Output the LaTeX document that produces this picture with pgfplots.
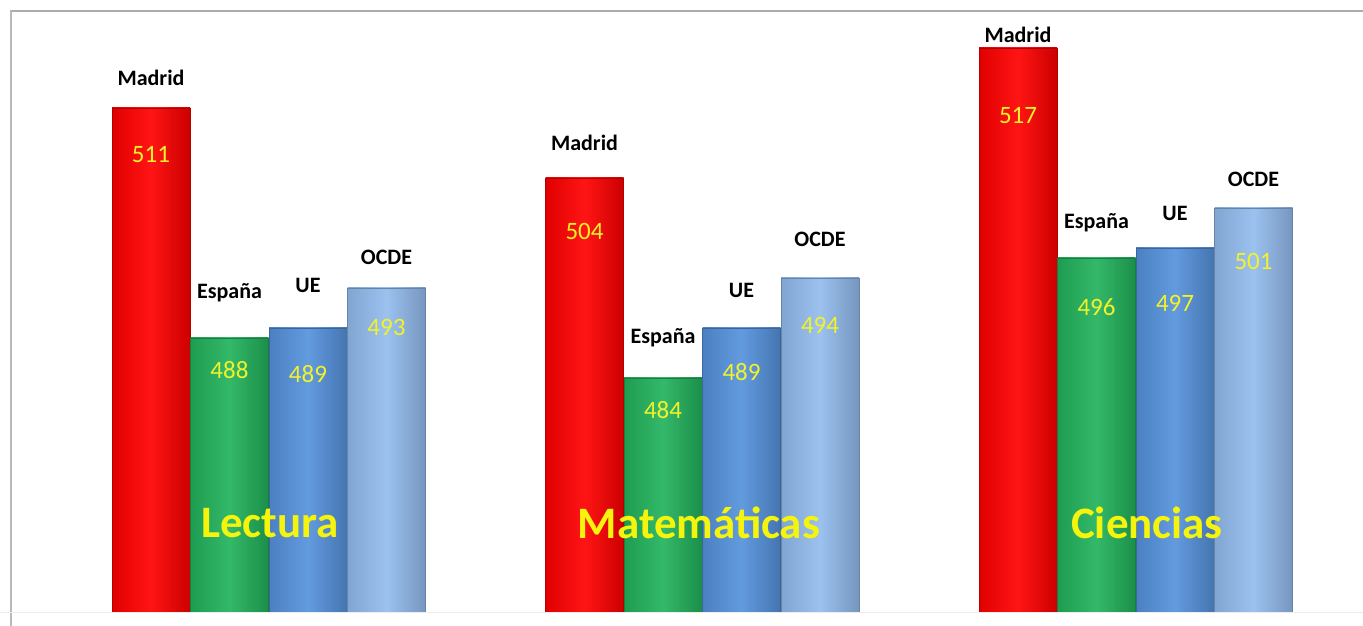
\documentclass[border=0pt]{standalone}
\usepackage{pgfplots}
\pgfplotsset{compat=1.18}
\usepackage{pgfplotstable}
\usepackage{fontspec}
\setmainfont{Carlito}

\definecolor{cMad}{HTML}{FF0000}
\definecolor{cEsp}{HTML}{22B25C}
\definecolor{cUE}{HTML}{5592DC}
\definecolor{cOCDE}{HTML}{93BCEE}
\definecolor{valtxt}{HTML}{F2F22A}
\definecolor{cattxt}{HTML}{F4F40C}

% x = bar centre, v = score, up = name above top, dn = value below top
\pgfplotstableread{
x     v   up dn
151   511 30 47
584.5 504 35 53
1018  517 13 68
}\madrid
\pgfplotstableread{
x     v   up dn
229.5 488 45 32
663   484 40 32
1096.5 496 35 49
}\espana
\pgfplotstableread{
x     v   up dn
308   489 43 46
741.5 489 38 44
1175  497 35 55
}\ue
\pgfplotstableread{
x     v   up dn
386.5 493 31 39
820   494 39 47
1253.5 501 29 53
}\ocde

\pgfplotsset{
  names/.style={
    draw=none, fill=none, forget plot,
    visualization depends on={\thisrow{up}\as\up},
    nodes near coords={#1},
    every node near coord/.style={anchor=center, yshift=\up pt, text=black,
      font=\fontsize{22}{22}\selectfont\bfseries},
  },
  values/.style={
    draw=none, fill=none, forget plot,
    visualization depends on={\thisrow{dn}\as\dn},
    nodes near coords,
    every node near coord/.style={anchor=center, yshift=-\dn pt, text=valtxt,
      font=\fontsize{25}{25}\selectfont},
  },
  barfill/.style={forget plot, draw=#1!70!black, line width=0.4pt,
    left color=#1!88!black, right color=#1!80!black, middle color=#1!92!white},
  first/.style={skip coords between index={1}{3}},
  second/.style={skip coords between index={0}{1}, skip coords between index={2}{3}},
  third/.style={skip coords between index={0}{2}},
}

\begin{document}
\begin{tikzpicture}
\path[use as bounding box] (0pt,-14pt) rectangle (1363pt,612pt);
\begin{axis}[
    scale only axis,
    width=1363pt, height=612pt,
    xmin=0, xmax=1363,
    ymin=460.6, ymax=521.8,
    hide axis,
    ybar, bar width=78, bar shift=0pt,
    /pgf/number format/assume math mode=true,
]
% bars, one plot per bar so each gets its own shading
\addplot[barfill=cMad, first] table[x=x, y=v] {\madrid};
\addplot[barfill=cMad, second] table[x=x, y=v] {\madrid};
\addplot[barfill=cMad, third] table[x=x, y=v] {\madrid};
\addplot[barfill=cEsp, first] table[x=x, y=v] {\espana};
\addplot[barfill=cEsp, second] table[x=x, y=v] {\espana};
\addplot[barfill=cEsp, third] table[x=x, y=v] {\espana};
\addplot[barfill=cUE, first] table[x=x, y=v] {\ue};
\addplot[barfill=cUE, second] table[x=x, y=v] {\ue};
\addplot[barfill=cUE, third] table[x=x, y=v] {\ue};
\addplot[barfill=cOCDE, first] table[x=x, y=v] {\ocde};
\addplot[barfill=cOCDE, second] table[x=x, y=v] {\ocde};
\addplot[barfill=cOCDE, third] table[x=x, y=v] {\ocde};
% series names above, scores inside
\addplot[names=Madrid] table[x=x, y=v] {\madrid};
\addplot[values] table[x=x, y=v] {\madrid};
\addplot[names=España] table[x=x, y=v] {\espana};
\addplot[values] table[x=x, y=v] {\espana};
\addplot[names=UE] table[x=x, y=v] {\ue};
\addplot[values] table[x=x, y=v] {\ue};
\addplot[names=OCDE] table[x=x, y=v] {\ocde};
\addplot[values] table[x=x, y=v] {\ocde};

\node[text=cattxt, font=\fontsize{45}{45}\selectfont\bfseries] at (axis cs:270,469.5) {Lectura};
\node[text=cattxt, font=\fontsize{45}{45}\selectfont\bfseries] at (axis cs:699,469.5) {Matemáticas};
\node[text=cattxt, font=\fontsize{45}{45}\selectfont\bfseries] at (axis cs:1147,469.5) {Ciencias};
\end{axis}
% frame lines of the original slide
\draw[gray!65, line width=1.3pt] (10pt,601pt) -- (1363pt,601pt);
\draw[gray!55, line width=1.1pt] (11pt,601pt) -- (11pt,-14pt);
\draw[gray!15, line width=1pt] (0pt,-1pt) -- (1363pt,-1pt);
\end{tikzpicture}
\end{document}
